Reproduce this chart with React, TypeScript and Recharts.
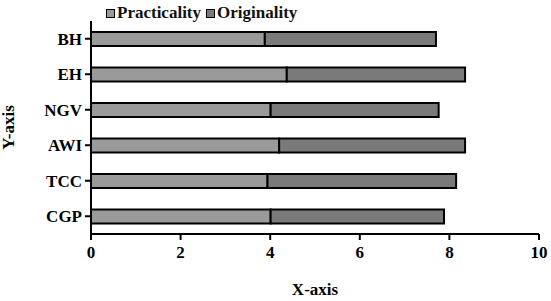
import React from "react";
import { BarChart, Bar, XAxis, YAxis, Label } from "recharts";

const categories = ["BH", "EH", "NGV", "AWI", "TCC", "CGP"];
const practicality = [3.88, 4.37, 4.01, 4.2, 3.94, 4.01];
const originality = [3.82, 3.98, 3.75, 4.15, 4.21, 3.87];
const xTicks = [0, 2, 4, 6, 8, 10];

const data = categories.map((name, i) => ({
  name,
  practicality: practicality[i],
  originality: originality[i],
}));

const FONT = "'Liberation Serif', serif";
const textStyle: React.CSSProperties = { fontFamily: FONT, fontWeight: 700, fontSize: 17 };

const LegendTop = () => (
  <div
    style={{
      position: "absolute",
      top: 3,
      left: 106,
      display: "flex",
      alignItems: "center",
      ...textStyle,
      color: "#111",
    }}
  >
    <span style={{ width: 7, height: 7, background: "#9a9a9a", border: "1.5px solid #000", display: "inline-block", marginRight: 2 }} />
    <span>Practicality</span>
    <span style={{ width: 7, height: 7, background: "#7a7a7a", border: "1.5px solid #000", display: "inline-block", marginLeft: 5, marginRight: 2 }} />
    <span>Originality</span>
  </div>
);

const XTick = (props: any) => {
  const { x, y, payload } = props;
  return (
    <text x={x} y={y + 14} textAnchor="middle" fill="#000" style={textStyle}>
      {payload.value}
    </text>
  );
};

const YTick = (props: any) => {
  const { x, y, payload } = props;
  return (
    <text x={x} y={y + 6} textAnchor="end" fill="#000" style={textStyle}>
      {payload.value}
    </text>
  );
};

export default function App() {
  return (
    <div style={{ position: "absolute", left: 0, top: 0, width: 551, height: 301, background: "#fff" }}>
      <LegendTop />
      <BarChart
        width={551}
        height={301}
        data={data}
        layout="vertical"
        margin={{ top: 21, right: 12, bottom: 0, left: 0 }}
      >
        <XAxis
          type="number"
          domain={[0, 10]}
          ticks={xTicks}
          axisLine={{ stroke: "#000", strokeWidth: 2 }}
          tickLine={{ stroke: "#000", strokeWidth: 2 }}
          tickSize={6}
          tickMargin={4}
          tick={<XTick />}
          height={67}
        >
          <Label
            value="X-axis"
            position="insideBottom"
            offset={6}
            style={{ fill: "#000", ...textStyle }}
          />
        </XAxis>
        <YAxis
          type="category"
          dataKey="name"
          width={91}
          axisLine={{ stroke: "#000", strokeWidth: 2 }}
          tickLine={{ stroke: "#000", strokeWidth: 2 }}
          tickSize={6}
          tickMargin={3}
          tick={<YTick />}
        >
          <Label
            value="Y-axis"
            angle={-90}
            position="insideLeft"
            offset={8}
            style={{ fill: "#000", ...textStyle, textAnchor: "middle" }}
          />
        </YAxis>
        <Bar dataKey="practicality" stackId="a" fill="#9a9a9a" stroke="#000" strokeWidth={2} barSize={14} isAnimationActive={false} />
        <Bar dataKey="originality" stackId="a" fill="#7a7a7a" stroke="#000" strokeWidth={2} barSize={14} isAnimationActive={false} />
      </BarChart>
    </div>
  );
}
